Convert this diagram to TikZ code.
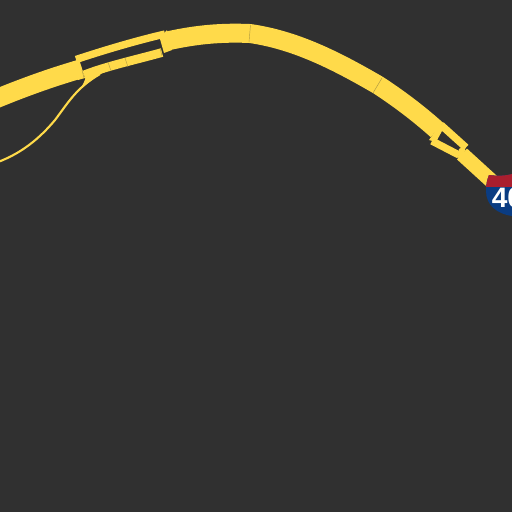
\documentclass[tikz,border=0pt]{standalone}
\usepackage{fontspec}
\setsansfont{Liberation Sans}
\usetikzlibrary{calc}
\definecolor{asphalt}{RGB}{48,48,48}
\definecolor{roadgold}{RGB}{255,218,74}
\definecolor{seamgold}{RGB}{176,154,66}
\definecolor{shieldred}{RGB}{170,30,46}
\definecolor{shieldblue}{RGB}{10,60,130}
\tikzset{
  mainroad/.style={draw=roadgold,line width=10.8pt},
  narrowroad/.style={draw=roadgold,line width=4.2pt},
  rampline/.style={draw=roadgold,line width=1.2pt},
  seam/.style={draw=seamgold,line width=0.25pt},
  shieldlabel/.style={font=\sffamily\bfseries\fontsize{16}{16}\selectfont,text=white,inner sep=0pt}
}
\newcommand{\shieldpath}{(489,175) .. controls (497,176) and (505,176) .. (512,174) -- (530,174) -- (530,216) -- (512,216) .. controls (498,214) and (486,206) .. (486,191) .. controls (486,184) and (487,180) .. (489,175) -- cycle}
\begin{document}
\begin{tikzpicture}[x=0.02cm,y=-0.02cm]
  \useasboundingbox (0,0) rectangle (512,512);
  \clip (0,0) rectangle (512,512);
  \fill[asphalt] (0,0) rectangle (512,512);
  % thin ramp
  \draw[rampline] (-2,162) .. controls (22,153) and (40,138) .. (55,120) .. controls (68,103) and (76,88) .. (100,74);
  \fill[roadgold] (81,88) .. controls (87,81) and (96,76) .. (108,70.5) -- (88,72) -- (84,82) -- cycle;
  % left pair
  \draw[mainroad] (-16,104) -- (-2,98) .. controls (25,87) and (50,78) .. (77,70);
  \draw[narrowroad] (76,59.5) .. controls (105,50) and (135,41) .. (165,34);
  \draw[narrowroad,line width=5pt] (84,75) .. controls (107,66) and (135,60) .. (162,52.5);
  \fill[roadgold] (72,62) -- (79,59) -- (85,78) -- (78,80) -- cycle;
  \fill[roadgold] (160,39) -- (167,30) -- (172,50) -- (164,53) -- cycle;
  % long main stretch
  \draw[mainroad] (167,41) .. controls (190,36) and (215,32) .. (250,33.5) .. controls (295,40) and (335,60) .. (378,85) .. controls (398,98) and (418,113) .. (437,130);
  % right pair
  \draw[narrowroad] (441,125) -- (466,147.5);
  \draw[narrowroad] (432,141) -- (459,155);
  \fill[roadgold] (429,140) -- (441,123) -- (442,131) -- (436,142) -- cycle;
  \fill[roadgold] (459,149) -- (466,145) -- (464,155) -- (458,158) -- cycle;
  \draw[mainroad,line width=8.4pt] (462,154) -- (496,185);
  % seams
  \draw[seam] (250.5,25) -- (249,42);
  \draw[seam] (382,78) -- (373,93);
  \draw[seam] (108,62) -- (111,71);
  \draw[seam] (125,58) -- (128,67);
  \draw[seam] (82,70) -- (84,78);
  \draw[seam] (160,48) -- (162,56);
  % shield
  \begin{scope}
    \fill[shieldblue] \shieldpath;
    \clip (480,170) rectangle (512,186);
    \fill[shieldred] \shieldpath;
  \end{scope}
  \node[shieldlabel,anchor=west] (shieldnum) at (491.5,198) {40};
\end{tikzpicture}
\end{document}
